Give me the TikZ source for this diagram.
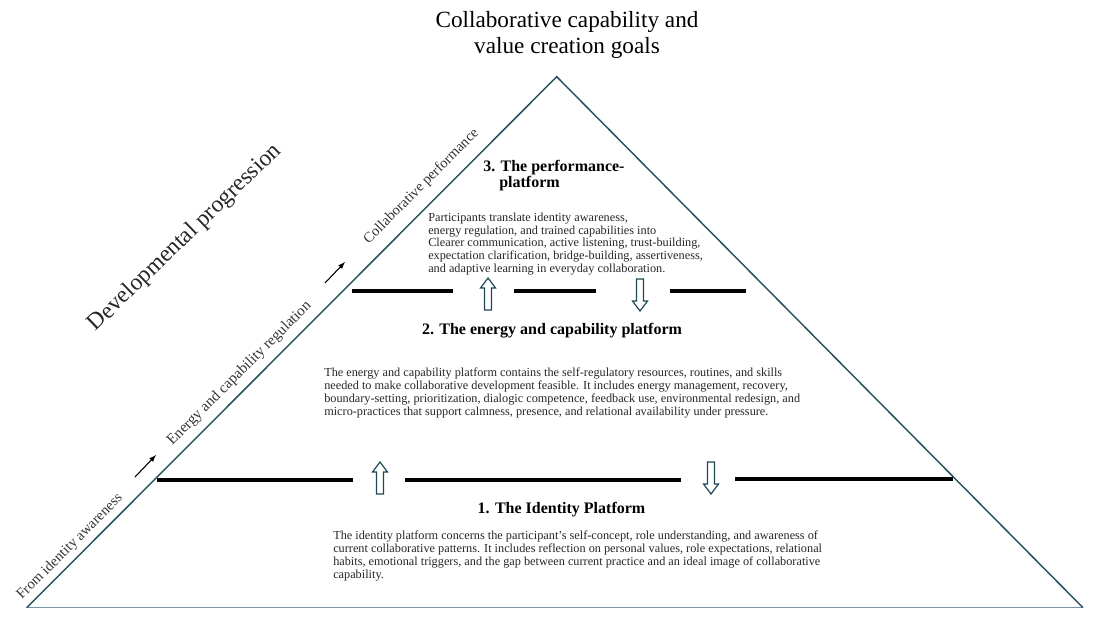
\documentclass[tikz,border=0pt]{standalone}
\usepackage{fontspec}
\setmainfont{Liberation Serif}
\definecolor{pyramidline}{RGB}{38,82,96}
\definecolor{groundline}{RGB}{120,148,165}
\definecolor{arrowline}{RGB}{30,72,88}
\tikzset{
	pyramidside/.style={pyramidline, line width=1.1pt},
	pyramidground/.style={groundline, line width=1.1pt},
	platformbar/.style={black, line width=3.2pt},
	blockarrow/.style={draw=arrowline, fill=white, line width=0.9pt, line join=miter},
	heading/.style={font=\fontsize{12}{12.5}\selectfont\bfseries, inner sep=0pt},
	bodytext/.style={font=\fontsize{9.2}{9.7}\selectfont, align=left, inner sep=0pt, text=black!85},
	sidelabel/.style={font=\fontsize{10.9}{12}\selectfont, rotate=45, inner sep=0pt, text=black!80}
}
% hollow arrow between platforms: x, base y, direction (-1 up, 1 down)
\newcommand{\platformarrow}[3]{%
	\draw[blockarrow] ({#1-3.5},{#2}) -- ({#1-3.5},{#2+22*(#3)}) -- ({#1-7.5},{#2+22*(#3)})
		-- ({#1},{#2+32*(#3)}) -- ({#1+7.5},{#2+22*(#3)}) -- ({#1+3.5},{#2+22*(#3)}) -- ({#1+3.5},{#2}) -- cycle;}
\begin{document}
\begin{tikzpicture}[x=0.75pt, y=-0.75pt]
	\useasboundingbox (0,0) rectangle (1095,619);
	\coordinate (apex) at (556.7,76.7);
	\coordinate (left) at (26.7,607.7);
	\coordinate (right) at (1083,607.7);
	\draw[pyramidground] (left) -- (right);
	\draw[pyramidside] (left) -- (apex) -- (right);
	% platform borders
	\draw[platformbar] (157,480) -- (353,480);
	\draw[platformbar] (405,480) -- (681,480);
	\draw[platformbar] (735,479) -- (953,479);
	\draw[platformbar] (352,291) -- (453,291);
	\draw[platformbar] (514,291) -- (596,291);
	\draw[platformbar] (670,291) -- (746,291);
	\platformarrow{380}{494}{-1}
	\platformarrow{711}{462}{1}
	\platformarrow{488}{310}{-1}
	\platformarrow{640}{279}{1}
	% title and progression labels
	\node[font=\fontsize{17.4}{19.5}\selectfont, align=center] (goals) at (567,35) {Collaborative capability and\\value creation goals};
	\node[font=\fontsize{17.6}{20}\selectfont, rotate=44, inner sep=0pt, text=black!85] (progression) at (185,238) {Developmental progression};
	\node[sidelabel] (fromidentity) at (70,547) {From identity awareness};
	\node[sidelabel, font=\fontsize{11.3}{12}\selectfont] (energyreg) at (239.5,373.5) {Energy and capability regulation};
	\node[sidelabel] (collabperf) at (421.5,186.5) {Collaborative performance};
	\draw[-latex, line width=0.8pt] (135,477) -- (156,455);
	\draw[-latex, line width=0.8pt] (325,283) -- (345,262);
	% platform 3
	\node[heading, align=left, anchor=west] (perfhead) at (483,175.5) {3. The performance-\\\hspace*{12pt}platform};
	\node[bodytext, anchor=west] (perftext) at (428,244) {Participants translate identity awareness,\\
		energy regulation, and trained capabilities into\\
		Clearer communication, active listening, trust-building,\\
		expectation clarification, bridge-building, assertiveness,\\
		and adaptive learning in everyday collaboration.};
	% platform 2
	\node[heading] (energyhead) at (552,331) {2. The energy and capability platform};
	\node[bodytext, anchor=west] (energytext) at (324,393) {The energy and capability platform contains the self-regulatory resources, routines, and skills\\
		needed to make collaborative development feasible. It includes energy management, recovery,\\
		boundary-setting, prioritization, dialogic competence, feedback use, environmental redesign, and\\
		micro-practices that support calmness, presence, and relational availability under pressure.};
	% platform 1
	\node[heading] (identityhead) at (561.5,510) {1. The Identity Platform};
	\node[bodytext, anchor=west] (identitytext) at (333,556) {The identity platform concerns the participant's self-concept, role understanding, and awareness of\\
		current collaborative patterns. It includes reflection on personal values, role expectations, relational\\
		habits, emotional triggers, and the gap between current practice and an ideal image of collaborative\\
		capability.};
\end{tikzpicture}
\end{document}
